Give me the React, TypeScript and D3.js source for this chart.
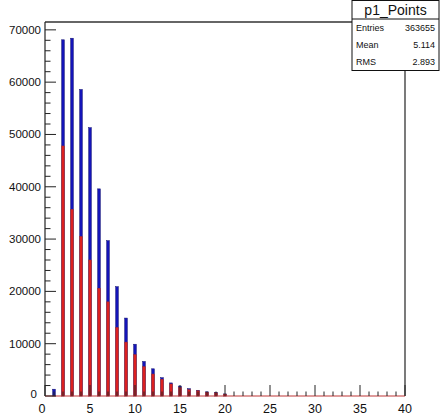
import React from "react";
import * as d3 from "d3";

const bins = [1, 2, 3, 4, 5, 6, 7, 8, 9, 10, 11, 12, 13, 14, 15, 16, 17, 18, 19, 20];
const totalCounts = [1300, 68100, 68400, 58600, 51300, 39600, 29700, 20900, 14900, 9900, 6600, 5200, 3500, 2500, 1900, 1400, 1100, 800, 700, 400];
const subsetCounts = [0, 47800, 35700, 30500, 26000, 20600, 18000, 13100, 10300, 7900, 5600, 4200, 3200, 2300, 1600, 1200, 1000, 700, 600, 350];
const xTicks = [0, 5, 10, 15, 20, 25, 30, 35, 40];
const yTicks = [0, 10000, 20000, 30000, 40000, 50000, 60000, 70000];
const statsTitle = "p1_Points";
const statsRows: [string, string][] = [
  ["Entries", "363655"],
  ["Mean", "5.114"],
  ["RMS", "2.893"],
];

const W = 440;
const H = 416;
const L = 45;
const R = 405;
const T = 22;
const B = 396;

export default function App() {
  const x = d3.scaleLinear().domain([0, 40]).range([L, R]);
  const y = d3.scaleLinear().domain([0, 71500]).range([B, T]);
  const bw = (x(1) - x(0)) * 0.3;
  const minorX = d3.range(0, 41, 1);
  const minorY = d3.range(0, 71500, 2000);
  const font = "'Liberation Sans', Arial, sans-serif";
  const boxL = 352;
  const boxR = 439;
  return (
    <svg
      width={W}
      height={H}
      style={{ position: "absolute", left: 0, top: 0, background: "#fff" }}
      fontFamily={font}
    >
      <rect x={0} y={0} width={W} height={H} fill="#fff" />
      {/* bars */}
      {bins.map((b, i) => (
        <g key={b}>
          <rect
            x={x(b) - bw / 2}
            y={y(totalCounts[i])}
            width={bw}
            height={B - y(totalCounts[i])}
            fill="#1414b8"
            stroke="#101070"
            strokeWidth={0.5}
          />
          {subsetCounts[i] > 0 && (
            <rect
              x={x(b) - bw / 2}
              y={y(subsetCounts[i])}
              width={bw}
              height={B - y(subsetCounts[i])}
              fill="#dc2020"
              stroke="#a03030"
              strokeWidth={0.5}
            />
          )}
        </g>
      ))}
      {/* frame */}
      <line x1={L} x2={R} y1={T} y2={T} stroke="#333" strokeWidth={1.5} />
      <line x1={R} x2={R} y1={T} y2={B} stroke="#222" strokeWidth={1.2} />
      <line x1={L} x2={L} y1={T} y2={B} stroke="#222" strokeWidth={1.2} />
      <line x1={L} x2={R} y1={B} y2={B} stroke="#c03838" strokeWidth={1.2} />
      {/* y ticks */}
      {minorY.map((v) => (
        <line
          key={"my" + v}
          x1={L}
          x2={L + (v % 10000 === 0 ? 11 : 5.5)}
          y1={y(v)}
          y2={y(v)}
          stroke="#222"
          strokeWidth={1}
        />
      ))}
      {yTicks.map((v) => (
        <text
          key={"yt" + v}
          x={v === 0 ? 37 : 41}
          y={v === 0 ? y(v) - 2 : y(v)}
          dy="0.35em"
          textAnchor="end"
          fontSize={11.5}
          fill="#111"
        >
          {v}
        </text>
      ))}
      {/* x ticks */}
      {minorX.map((v) => (
        <line
          key={"mx" + v}
          x1={x(v)}
          x2={x(v)}
          y1={B}
          y2={B - (v % 5 === 0 ? 11 : 4.5)}
          stroke="#222"
          strokeWidth={1}
        />
      ))}
      {xTicks.map((v) => (
        <text
          key={"xt" + v}
          x={v === 0 ? x(v) - 3 : x(v)}
          y={413}
          textAnchor="middle"
          fontSize={12.5}
          fill="#111"
        >
          {v}
        </text>
      ))}
      {/* stats box */}
      <rect x={boxL} y={0.5} width={boxR - boxL} height={70} fill="#fff" stroke="#111" strokeWidth={1} />
      <line x1={boxL} x2={boxR} y1={19} y2={19} stroke="#111" strokeWidth={1} />
      <text x={(boxL + boxR) / 2} y={15} textAnchor="middle" fontSize={14} fill="#111">
        {statsTitle}
      </text>
      {statsRows.map((r, i) => (
        <g key={r[0]}>
          <text x={boxL + 4} y={31 + i * 17} fontSize={9} fill="#111">
            {r[0]}
          </text>
          <text x={boxR - 4} y={31 + i * 17} fontSize={9} textAnchor="end" fill="#111">
            {r[1]}
          </text>
        </g>
      ))}
    </svg>
  );
}
